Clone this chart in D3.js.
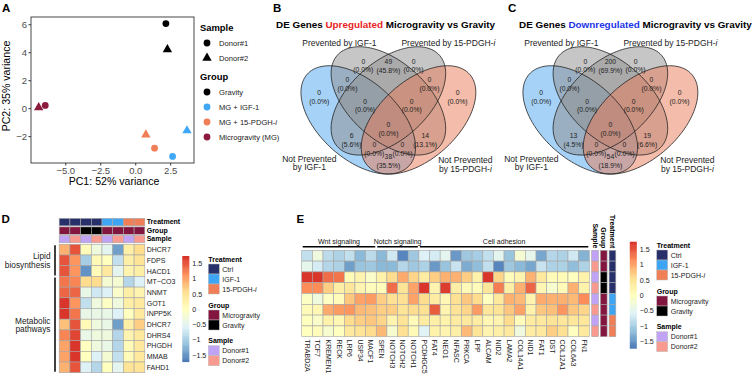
<!DOCTYPE html>
<html>
<head>
<meta charset="utf-8">
<script src="https://cdn.jsdelivr.net/npm/d3@7"></script>
<style>
  body { margin: 0; background: #fff; }
  svg { display: block; font-family: "Liberation Sans", Arial, sans-serif; }
</style>
</head>
<body>
<div id="chart"></div>
<script>
// ---------- data ----------
// A: PCA
const pcaGroups = ["Gravity", "MG + IGF-1", "MG + 15-PDGH-i", "Microgravity (MG)"];
const pcaDonors = ["Donor#1", "Donor#2"];
const pcaGroup = ["Gravity", "Gravity", "Microgravity (MG)", "Microgravity (MG)", "MG + IGF-1", "MG + IGF-1", "MG + 15-PDGH-i", "MG + 15-PDGH-i"];
const pcaDonor = ["Donor#1", "Donor#2", "Donor#1", "Donor#2", "Donor#1", "Donor#2", "Donor#1", "Donor#2"];
const pc1 = [2.19, 2.3, -6.43, -6.9, 2.67, 3.7, 1.38, 0.76];
const pc2 = [6.05, 4.2, 0.2, 0.05, -3.45, -1.6, -2.86, -1.9];
const pcXTicks = [-5, -2.5, 0, 2.5];
const pcYTicks = [-2, 0, 2, 4, 6];

// B / C: Venn region counts (same region order in both)
const vennUp = [0, 49, 0, 0, 0, 0, 0, 0, 0, 0, 6, 14, 0, 0, 38];
const vennDown = [0, 200, 0, 0, 0, 0, 0, 0, 0, 0, 13, 19, 0, 0, 54];

// D: heatmap
const dSamples = ["s1", "s2", "s3", "s4", "s5", "s6", "s7", "s8"];
const dTreatment = ["Ctrl", "Ctrl", "Ctrl", "Ctrl", "IGF-1", "IGF-1", "15-PDGH-i", "15-PDGH-i"];
const dGroup = ["Microgravity", "Microgravity", "Gravity", "Gravity", "Microgravity", "Microgravity", "Microgravity", "Microgravity"];
const dDonor = ["Donor#1", "Donor#2", "Donor#1", "Donor#2", "Donor#1", "Donor#2", "Donor#1", "Donor#2"];
const dGenes = ["DHCR7", "FDPS", "HACD1", "MT\u2212CO3", "NNMT", "GOT1", "INPP5K", "DHCR7 ", "DHRS4", "PHGDH", "MMAB", "FAHD1"];
const dValues = [
  [0.9, 1.5, 0.1, -0.3, -0.5, -1.4, 0.3, 0.6],
  [1.5, 1.1, -1.0, 0.1, 0.0, -0.8, 0.3, 0.5],
  [1.5, 1.1, -1.5, 0.1, 0.4, -0.5, 0.2, 0.3],
  [1.3, 1.2, 0.6, 0.6, -0.2, -0.2, -0.9, -0.6],
  [1.4, 1.4, -0.4, -0.7, -0.6, -0.1, 0.3, 0.2],
  [1.7, 1.1, -0.8, -0.3, -0.05, -0.3, 0.3, 0.4],
  [1.7, 1.3, -0.4, -0.4, -0.4, -0.6, 0.0, 0.4],
  [0.8, 1.5, 0.1, -0.3, -0.4, -1.4, 0.3, 0.7],
  [1.2, 1.6, -0.4, -0.3, -0.3, -0.9, 0.2, 0.4],
  [1.0, 1.7, 0.0, -0.3, -0.4, -0.9, 0.1, 0.4],
  [1.0, 1.7, 0.0, -0.6, -0.2, -0.8, 0.1, 0.4],
  [0.9, 1.5, -0.6, -0.9, 0.0, -0.5, 0.5, 0.5]
];
const dPathways = [
  {name: ["Lipid", "biosynthesis"], from: "DHCR7", to: "HACD1"},
  {name: ["Metabolic", "pathways"], from: "MT\u2212CO3", to: "FAHD1"}
];

// E: heatmap (rows = samples, same order as D)
const eGenes = ["TRABD2A", "TCF7", "KREMEN1", "RECK", "LRP6", "USP34", "MACF1", "SPEN", "NOTCH3", "NOTCH2", "NOTCH1",
  "PCDHGC5", "FAT4", "NEO1", "NFASC", "PRKCA", "LPP", "ALCAM", "NID2", "LAMA2", "COL14A1", "NID1", "FAT1", "DST", "COL12A1", "COL6A3", "FN1"];
const eValues = [
  [-0.8, -0.3, -0.85, -0.95, -0.8, -1.2, -0.85, -1.2, -0.7, -1.6, -1.05, -0.6, -0.65, -0.5, -1.45, -1.05, -1.0, -0.8, -0.5, -1.1, -0.2, -0.45, -1.35, -0.9, -0.95, -0.7, -1.25],
  [-0.45, -0.65, -0.9, -0.95, -1.4, -1.1, -1.05, -1.2, -1.2, -0.9, -1.05, -0.95, -1.45, -1.1, -0.75, -1.3, -1.15, -0.8, -1.6, -1.05, -1.2, -1.35, -0.75, -0.95, -0.95, -1.15, -0.95],
  [1.7, 1.7, 1.35, 1.3, 0.1, 0.2, -0.1, 0.25, 0.6, 0.95, 0.65, 0.35, 0.7, 0.9, 0.9, 0.7, 0.25, 1.7, 0.65, 0.05, 0.2, 0.9, 0.4, 0.1, 0.1, 0.0, 0.25],
  [1.15, 1.15, 0.7, 0.3, 0.45, 0.2, 0.05, 0.05, 1.35, 0.5, 1.0, 1.7, 0.2, 1.65, 0.3, 0.1, 0.05, 0.45, 1.25, 0.3, 0.9, 1.4, 0.15, -0.15, 0.1, 0.9, 0.25],
  [-0.05, -0.3, -0.05, 0.05, 0.75, 1.0, 1.05, 0.7, 0.55, 0.55, 1.0, 0.6, 0.35, 0.15, 0.55, 0.75, 0.6, 0.0, 0.4, 0.9, 0.85, 0.2, 0.95, 0.9, 0.9, 0.85, 1.15],
  [0.1, 0.15, 0.95, 1.05, 1.1, 0.85, 0.8, 0.7, 0.7, 0.5, 0.6, 0.55, 1.45, 0.2, 0.5, 0.65, 1.05, 0.45, 0.5, 0.75, 1.0, 0.25, 0.75, 0.8, 1.1, 0.75, 0.65],
  [0.0, -0.1, 0.25, 0.15, 0.6, 0.7, 0.75, 0.65, 0.2, 0.5, 0.1, 0.35, 0.3, 0.25, 0.35, 0.4, 0.35, 0.15, 0.2, 0.6, 0.05, 0.35, 0.4, 0.5, 0.45, 0.45, 0.45],
  [0.0, 0.05, -0.15, 0.0, 0.4, 0.5, 0.6, 0.85, -0.15, 0.55, 0.1, -0.55, 0.25, 0.2, 0.3, 0.85, 0.5, 0.2, 0.3, 0.4, -0.3, 0.35, 0.4, 0.7, 0.55, 0.0, 0.4]
];
const ePathways = [
  {name: "Wnt signaling", from: "TRABD2A", to: "MACF1"},
  {name: "Notch signaling", from: "SPEN", to: "NOTCH1"},
  {name: "Cell adhesion", from: "PCDHGC5", to: "FN1"}
];
const legendTicks = [-1.5, -1, -0.5, 0, 0.5, 1, 1.5];

// ---------- colours ----------
const pcaColor = d3.scaleOrdinal().domain(pcaGroups).range(["#000000", "#3fa7f5", "#f07e56", "#8b1a3d"]);
const treatColor = d3.scaleOrdinal().domain(["Ctrl", "IGF-1", "15-PDGH-i"]).range(["#27306b", "#3da5f4", "#f07e56"]);
const groupColor = d3.scaleOrdinal().domain(["Microgravity", "Gravity"]).range(["#83163f", "#000000"]);
const donorColor = d3.scaleOrdinal().domain(["Donor#1", "Donor#2"]).range(["#c0a3f5", "#f99a90"]);
const heatColors = d3.schemeRdYlBu[7].slice().reverse();
const heat = d3.scaleLinear().domain(d3.range(7).map(i => -1.73 + i * 3.46 / 6)).range(heatColors).clamp(true);
const cellStroke = "#a6a6a6";

const svg = d3.select("#chart").append("svg").attr("width", 754).attr("height", 374);

function panelLetter(t, x, y) {
  svg.append("text").attr("x", x).attr("y", y).attr("font-size", 11.5).attr("font-weight", "bold").text(t);
}
function pdghText(sel, prefix) {
  sel.append("tspan").text(prefix + "15-PDGH-");
  sel.append("tspan").attr("font-style", "italic").text("i");
}

// ---------- A: PCA ----------
panelLetter("A", 2, 12);
const x = d3.scaleLinear().domain([-7.45, 4.2]).range([31, 194]);
const y = d3.scaleLinear().domain([-3.92, 6.52]).range([163, 17]);
const gA = svg.append("g");

const xAxis = gA.append("g").attr("transform", "translate(0,163)")
  .call(d3.axisBottom(x).tickValues(pcXTicks).tickFormat(d3.format(".1f")).tickSize(2.5).tickPadding(1.5));
const yAxis = gA.append("g").attr("transform", "translate(31,0)")
  .call(d3.axisLeft(y).tickValues(pcYTicks).tickSize(2.5).tickPadding(1.5));
[xAxis, yAxis].forEach(a => {
  a.select(".domain").remove();
  a.selectAll("line").attr("stroke", "#333");
  a.selectAll("text").attr("fill", "#4d4d4d").attr("font-size", 9.5).attr("font-family", null);
});
gA.append("rect").attr("x", 31).attr("y", 17).attr("width", 163).attr("height", 146)
  .attr("fill", "none").attr("stroke", "#333").attr("stroke-width", 0.9);

const sym = d3.scaleOrdinal().domain(pcaDonors).range([d3.symbolCircle, d3.symbolTriangle]);
const symSize = d3.scaleOrdinal().domain(pcaDonors).range([36, 38]);
gA.selectAll(".pt").data(pc1.map((v, i) => ({x: v, y: pc2[i], g: pcaGroup[i], d: pcaDonor[i]})))
  .enter().append("path")
  .attr("transform", d => `translate(${x(d.x)},${y(d.y)})`)
  .attr("d", d => d3.symbol(sym(d.d), symSize(d.d))())
  .attr("fill", d => pcaColor(d.g));

gA.append("text").attr("x", 114).attr("y", 185).attr("text-anchor", "middle").attr("font-size", 10.6).text("PC1: 52% variance");
gA.append("text").attr("transform", "translate(10,86) rotate(-90)").attr("text-anchor", "middle").attr("font-size", 10.6).text("PC2: 35% variance");

// legend A
const lgA = svg.append("g");
lgA.append("text").attr("x", 200).attr("y", 30.5).attr("font-size", 9.4).attr("font-weight", "bold").text("Sample");
pcaDonors.forEach((d, i) => {
  const yy = 43 + i * 15;
  lgA.append("path").attr("transform", `translate(207,${yy})`).attr("d", d3.symbol(sym(d), symSize(d))()).attr("fill", "#000");
  lgA.append("text").attr("x", 219).attr("y", yy + 2.7).attr("font-size", 7.6).attr("fill", "#222").text(d);
});
lgA.append("text").attr("x", 200).attr("y", 79.5).attr("font-size", 9.4).attr("font-weight", "bold").text("Group");
pcaGroups.forEach((g, i) => {
  const yy = 92 + i * 15;
  lgA.append("circle").attr("cx", 207).attr("cy", yy).attr("r", 3.4).attr("fill", pcaColor(g));
  const t = lgA.append("text").attr("x", 219).attr("y", yy + 2.7).attr("font-size", 7.6).attr("fill", "#222");
  if (g === "MG + 15-PDGH-i") pdghText(t, "MG + "); else t.text(g);
});

// ---------- B / C: Venn ----------
const vennEllipses = [
  {cx: 0.35, cy: 0.47, rot: -45, fill: "#4ea6ef"},
  {cx: 0.5, cy: 0.57, rot: -45, fill: "#8e8e8e"},
  {cx: 0.5, cy: 0.57, rot: 45, fill: "#8e8e8e"},
  {cx: 0.65, cy: 0.47, rot: 45, fill: "#ea7a55"}
];
const vennPos = [[0.375, 0.756], [0.5, 0.754], [0.625, 0.756], [0.296, 0.659], [0.704, 0.659], [0.156, 0.59],
  [0.384, 0.546], [0.616, 0.546], [0.844, 0.59], [0.5, 0.422], [0.317, 0.364], [0.683, 0.364],
  [0.43, 0.317], [0.57, 0.317], [0.5, 0.254]];

function ellipsePoints(e) {
  const a = 0.35, b = 0.2, r = e.rot * Math.PI / 180;
  return d3.range(0, 361, 3).map(t => {
    const u = t * Math.PI / 180;
    const px = a * Math.cos(u), py = b * Math.sin(u);
    return [e.cx + px * Math.cos(r) - py * Math.sin(r), e.cy + px * Math.sin(r) + py * Math.cos(r)];
  });
}

function drawVenn(ox, counts, word, wordColor, titleX) {
  const sx = 201, sy = 190, oy = 114.2;
  const vx = d3.scaleLinear().domain([0, 1]).range([ox - sx / 2, ox + sx / 2]);
  const vy = d3.scaleLinear().domain([0, 1]).range([oy + sy / 2, oy - sy / 2]);
  const line = d3.line().x(p => vx(p[0])).y(p => vy(p[1]));
  const g = svg.append("g");
  const title = g.append("text").attr("x", titleX).attr("y", 27.5).attr("font-size", 9.9).attr("font-weight", "bold");
  title.append("tspan").text("DE Genes ");
  title.append("tspan").attr("fill", wordColor).text(word);
  title.append("tspan").text(" Microgravity vs Gravity");

  g.selectAll(".ef").data(vennEllipses).enter().append("path")
    .attr("d", e => line(ellipsePoints(e)) + "Z")
    .attr("fill", d => d.fill).attr("fill-opacity", 0.5);
  g.selectAll(".es").data(vennEllipses).enter().append("path")
    .attr("d", e => line(ellipsePoints(e)) + "Z")
    .attr("fill", "none").attr("stroke", "#222").attr("stroke-width", 0.8);

  const total = d3.sum(counts);
  const fmt = d3.format(".1f");
  counts.forEach((c, i) => {
    const px = vx(vennPos[i][0]), py = vy(vennPos[i][1]);
    g.append("text").attr("x", px).attr("y", py - 1.8).attr("text-anchor", "middle").attr("font-size", 6.8).attr("fill", "#222").text(c);
    g.append("text").attr("x", px).attr("y", py + 6.6).attr("text-anchor", "middle").attr("font-size", 6.8).attr("fill", "#222")
      .text(`(${fmt(c / total * 100)}%)`);
  });

  const lab = (tx, ty) => g.append("text").attr("x", tx).attr("y", ty).attr("text-anchor", "middle").attr("font-size", 8.5).attr("fill", "#222");
  lab(ox - 49, 45.8).text("Prevented by IGF-1");
  pdghText(lab(ox + 60, 45.8), "Prevented by ");
  lab(ox - 79, 161.8).text("Not Prevented");
  lab(ox - 79, 170.4).text("by IGF-1");
  lab(ox + 77, 163.4).text("Not Prevented");
  pdghText(lab(ox + 77, 172), "by ");
}
panelLetter("B", 273, 12);
drawVenn(388.4, vennUp, "Upregulated", "#e82424", 276);
panelLetter("C", 508, 12);
drawVenn(610.4, vennDown, "Downregulated", "#2233e8", 519);

// ---------- shared legend pieces ----------
function colorbar(x0, top, bottom) {
  const g = svg.append("g");
  const cb = d3.scaleLinear().domain([-1.72, 1.74]).range([bottom, top]);
  const steps = d3.range(0, 60);
  const dv = 3.46 / 60;
  g.selectAll("rect").data(steps).enter().append("rect")
    .attr("x", x0).attr("width", 7)
    .attr("y", i => cb(-1.72 + (i + 1) * dv))
    .attr("height", i => cb(-1.72 + i * dv) - cb(-1.72 + (i + 1) * dv) + 0.4)
    .attr("fill", i => heat(-1.72 + (i + 0.5) * dv));
  const ax = g.append("g").attr("transform", `translate(${x0 + 9},0)`)
    .call(d3.axisRight(cb).tickValues(legendTicks).tickSize(0).tickPadding(1).tickFormat(d => d3.format("")(d)));
  ax.select(".domain").remove();
  ax.selectAll("text").attr("font-size", 7.1).attr("fill", "#222").attr("font-family", null);
}
function annoLegend(x0, y0) {
  const g = svg.append("g");
  const blocks = [
    {title: "Treatment", scale: treatColor, y: y0},
    {title: "Group", scale: groupColor, y: y0 + 46},
    {title: "Sample", scale: donorColor, y: y0 + 81.7}
  ];
  blocks.forEach(b => {
    g.append("text").attr("x", x0).attr("y", b.y + 2.5).attr("font-size", 7).attr("font-weight", "bold").text(b.title);
    b.scale.domain().forEach((k, i) => {
      const yy = b.y + 5 + i * 10;
      g.append("rect").attr("x", x0).attr("y", yy).attr("width", 11).attr("height", 10)
        .attr("fill", b.scale(k)).attr("stroke", "#bdbdbd").attr("stroke-width", 0.5);
      const t = g.append("text").attr("x", x0 + 14).attr("y", yy + 7.5).attr("font-size", 7).attr("fill", "#222");
      if (k === "15-PDGH-i") pdghText(t, ""); else t.text(k);
    });
  });
}

// ---------- D: heatmap ----------
panelLetter("D", 1.5, 223);
const dx = d3.scaleBand().domain(dSamples).range([59.2, 144.8]);
const dy = d3.scaleBand().domain(dGenes).range([244.3, 372.7]);
const gD = svg.append("g");
const dAnno = [
  {name: "Treatment", vals: dTreatment, scale: treatColor, y: 218.4},
  {name: "Group", vals: dGroup, scale: groupColor, y: 226.9},
  {name: "Sample", vals: dDonor, scale: donorColor, y: 235.4}
];
dAnno.forEach(a => {
  gD.selectAll(null).data(dSamples).enter().append("rect")
    .attr("x", d => dx(d)).attr("y", a.y).attr("width", dx.bandwidth()).attr("height", 7.4)
    .attr("fill", (d, i) => a.scale(a.vals[i])).attr("stroke", cellStroke).attr("stroke-width", 0.6);
  gD.append("text").attr("x", 146.7).attr("y", a.y + 6).attr("font-size", 7).attr("font-weight", "bold").text(a.name);
});
dGenes.forEach((gname, r) => {
  gD.selectAll(null).data(dSamples).enter().append("rect")
    .attr("x", d => dx(d)).attr("y", dy(gname)).attr("width", dx.bandwidth()).attr("height", dy.bandwidth())
    .attr("fill", (d, c) => heat(dValues[r][c])).attr("stroke", cellStroke).attr("stroke-width", 0.6);
  gD.append("text").attr("x", 146.7).attr("y", dy(gname) + dy.bandwidth() / 2 + 2.5).attr("font-size", 7).attr("fill", "#222").text(gname.trim());
});
dPathways.forEach(p => {
  const y0 = dy(p.from) + 1, y1 = dy(p.to) + dy.bandwidth() - 1;
  gD.append("line").attr("x1", 55).attr("x2", 55).attr("y1", y0).attr("y2", y1).attr("stroke", "#000").attr("stroke-width", 1.5);
  const mid = (y0 + y1) / 2;
  p.name.forEach((n, i) => {
    gD.append("text").attr("x", 50.5).attr("y", mid - 1 + i * 8.7).attr("text-anchor", "end").attr("font-size", 8.3).attr("fill", "#222").text(n);
  });
});
colorbar(182.3, 256, 361.7);
annoLegend(208.3, 259);

// ---------- E: heatmap ----------
panelLetter("E", 296.5, 223);
const ex = d3.scaleBand().domain(eGenes).range([301.7, 589.3]);
const ey = d3.scaleBand().domain(dSamples).range([250.3, 336.7]);
const gE = svg.append("g");
eValues.forEach((row, r) => {
  gE.selectAll(null).data(eGenes).enter().append("rect")
    .attr("x", d => ex(d)).attr("y", ey(dSamples[r])).attr("width", ex.bandwidth()).attr("height", ey.bandwidth())
    .attr("fill", (d, c) => heat(row[c])).attr("stroke", cellStroke).attr("stroke-width", 0.6);
});
gE.selectAll(".gl").data(eGenes).enter().append("text")
  .attr("transform", d => `translate(${ex(d) + ex.bandwidth() / 2},339.5) rotate(90)`)
  .attr("dy", "0.35em").attr("font-size", 7).attr("fill", "#222").text(d => d);
ePathways.forEach(p => {
  const x0 = ex(p.from) + 1, x1 = ex(p.to) + ex.bandwidth() - 1;
  gE.append("line").attr("x1", x0).attr("x2", x1).attr("y1", 246.7).attr("y2", 246.7).attr("stroke", "#000").attr("stroke-width", 1.4);
  gE.append("text").attr("x", (x0 + x1) / 2).attr("y", 243.5).attr("text-anchor", "middle").attr("font-size", 7).attr("fill", "#111").text(p.name);
});
const eAnno = [
  {name: "Sample", vals: dDonor, scale: donorColor, x: 591.7},
  {name: "Group", vals: dGroup, scale: groupColor, x: 600.4},
  {name: "Treatment", vals: dTreatment, scale: treatColor, x: 609.1}
];
eAnno.forEach(a => {
  gE.selectAll(null).data(dSamples).enter().append("rect")
    .attr("x", a.x).attr("y", d => ey(d)).attr("width", 6.7).attr("height", ey.bandwidth())
    .attr("fill", (d, i) => a.scale(a.vals[i])).attr("stroke", cellStroke).attr("stroke-width", 0.6);
  gE.append("text").attr("transform", `translate(${a.x + 3.35},248.3) rotate(90)`)
    .attr("dy", "0.35em").attr("text-anchor", "end").attr("font-size", 7).attr("font-weight", "bold").text(a.name);
});
colorbar(629.8, 241.7, 348.3);
annoLegend(656.7, 245);
</script>
</body>
</html>
